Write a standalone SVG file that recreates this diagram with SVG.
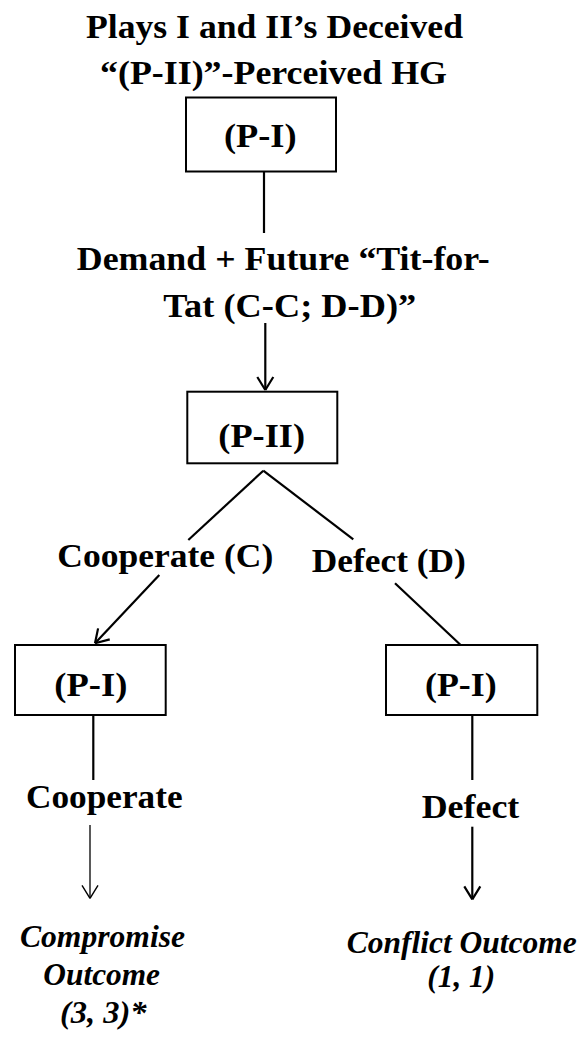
<svg xmlns="http://www.w3.org/2000/svg" width="583" height="1037" viewBox="0 0 583 1037">
<style>
  text { font-family: "Liberation Serif", "Times New Roman", serif; font-weight: bold; fill: #000; text-anchor: middle; }
  .t { font-size: 34px; }
  .it { font-size: 31px; font-style: italic; }
  .box { fill: #fff; stroke: #000; stroke-width: 2; }
  .ln { fill: none; stroke: #000; stroke-width: 2.2; }
  .thin { fill: none; stroke: #000; stroke-width: 1.3; }
</style>
<defs>
  <marker id="arr" markerUnits="userSpaceOnUse" markerWidth="30" markerHeight="30" refX="15" refY="15" orient="auto" viewBox="0 0 30 30">
    <path d="M15,15 L2,7 M15,15 L2,23" fill="none" stroke="#000" stroke-width="2.2"/>
  </marker>
  <marker id="arrThin" markerUnits="userSpaceOnUse" markerWidth="30" markerHeight="30" refX="15" refY="15" orient="auto" viewBox="0 0 30 30">
    <path d="M15,15 L2,7 M15,15 L2,23" fill="none" stroke="#000" stroke-width="1.4"/>
  </marker>
</defs>
<rect width="583" height="1037" fill="#fff"/>

<g id="title">
  <text class="t" x="274.5" y="37.5" textLength="377" lengthAdjust="spacingAndGlyphs">Plays I and II’s Deceived</text>
  <text class="t" x="273.5" y="83.5" textLength="347" lengthAdjust="spacingAndGlyphs">“(P-II)”-Perceived HG</text>
</g>

<g id="connectors">
  <line class="ln" x1="264" y1="172" x2="264" y2="233"/>
  <line class="ln" x1="265.3" y1="323" x2="265.3" y2="390" marker-end="url(#arr)"/>
  <line class="ln" x1="263.3" y1="470.7" x2="188.3" y2="540"/>
  <line class="ln" x1="263.3" y1="470.7" x2="353.3" y2="539.3"/>
  <line class="ln" x1="159.3" y1="575" x2="95" y2="643.3" marker-end="url(#arr)"/>
  <line class="ln" x1="395" y1="583.3" x2="461.7" y2="646"/>
  <line class="ln" x1="93.3" y1="715" x2="93.3" y2="780"/>
  <line class="ln" x1="472.3" y1="715" x2="472.3" y2="780"/>
  <line class="thin" x1="90" y1="825" x2="90" y2="898.3" marker-end="url(#arrThin)"/>
  <line class="ln" x1="472.3" y1="826.7" x2="472.3" y2="899.3" marker-end="url(#arr)"/>
</g>

<g id="labels">
  <text class="t" x="283.3" y="270" textLength="413" lengthAdjust="spacingAndGlyphs">Demand + Future “Tit-for-</text>
  <text class="t" x="289.7" y="316.7" textLength="253" lengthAdjust="spacingAndGlyphs">Tat (C-C; D-D)”</text>
  <text class="t" x="165.3" y="566.7" textLength="216" lengthAdjust="spacingAndGlyphs">Cooperate (C)</text>
  <text class="t" x="388.8" y="571.7" textLength="154" lengthAdjust="spacingAndGlyphs">Defect (D)</text>
  <text class="t" x="104.3" y="808.3" textLength="156.7" lengthAdjust="spacingAndGlyphs">Cooperate</text>
  <text class="t" x="470.5" y="818.3" textLength="97.7" lengthAdjust="spacingAndGlyphs">Defect</text>
</g>

<g id="node-p1-top">
  <rect class="box" x="186" y="97.5" width="150" height="74"/>
  <text class="t" x="260.3" y="146.7" textLength="72.7" lengthAdjust="spacingAndGlyphs">(P-I)</text>
</g>

<g id="node-p2">
  <rect class="box" x="187.3" y="391.7" width="150" height="71.6"/>
  <text class="t" x="261.7" y="446.7" textLength="86.7" lengthAdjust="spacingAndGlyphs">(P-II)</text>
</g>

<g id="node-p1-left">
  <rect class="box" x="15" y="645" width="150.7" height="70"/>
  <text class="t" x="90.8" y="696" textLength="73" lengthAdjust="spacingAndGlyphs">(P-I)</text>
</g>

<g id="node-p1-right">
  <rect class="box" x="386" y="645" width="151.3" height="70"/>
  <text class="t" x="460.8" y="696" textLength="71.7" lengthAdjust="spacingAndGlyphs">(P-I)</text>
</g>

<g id="outcome-compromise">
  <text class="it" x="102.5" y="946.7" textLength="165" lengthAdjust="spacingAndGlyphs">Compromise</text>
  <text class="it" x="101.7" y="985" textLength="116.7" lengthAdjust="spacingAndGlyphs">Outcome</text>
  <text class="it" x="103.3" y="1023.3" textLength="86.7" lengthAdjust="spacingAndGlyphs">(3, 3)*</text>
</g>

<g id="outcome-conflict">
  <text class="it" x="461.7" y="953.3" textLength="230" lengthAdjust="spacingAndGlyphs">Conflict Outcome</text>
  <text class="it" x="461.2" y="986.7" textLength="67.7" lengthAdjust="spacingAndGlyphs">(1, 1)</text>
</g>
</svg>
